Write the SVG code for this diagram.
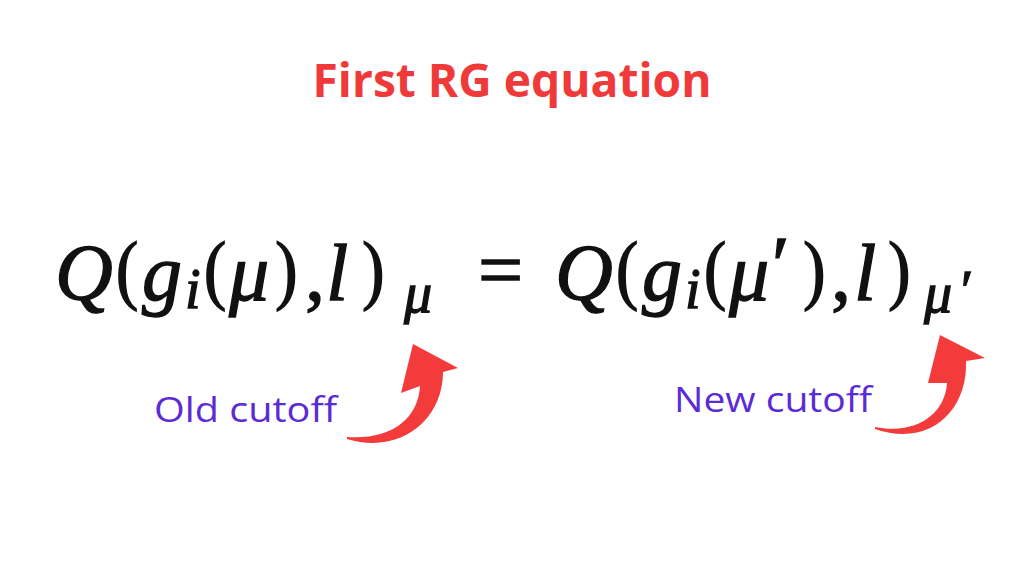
<svg xmlns="http://www.w3.org/2000/svg" width="1024" height="576" viewBox="0 0 1024 576">
<style>
.title{font-family:"Open Sans","Liberation Sans",sans-serif;font-weight:bold;font-size:46px;fill:#f03a3a}
.lbl{font-family:"Open Sans","Liberation Sans",sans-serif;font-size:34px;fill:#5b2bd6}
.m{font-family:"Liberation Serif","DejaVu Serif",serif;font-size:80px;fill:#111;stroke:#111;stroke-width:1.3}
.p{font-family:"DejaVu Serif","Liberation Serif",serif;font-size:78px;fill:#111}
.it{font-style:italic}
.sub{font-size:56px}
.arrow{fill:#f43b3b}
</style>
<rect width="1024" height="576" fill="#ffffff"/>
<g id="title"><text class="title" x="512" y="97" text-anchor="middle" textLength="399" lengthAdjust="spacingAndGlyphs">First RG equation</text></g>
<g id="equation">
<text class="m it" x="55" y="300">Q</text>
<text class="p" x="112" y="300">(</text>
<text class="m it" x="142" y="300">g</text>
<text class="m it sub" x="185" y="308">i</text>
<text class="p" x="200" y="300">(</text>
<text class="m it" x="229" y="300">μ</text>
<text class="p" x="271" y="300">)</text>
<text class="m" x="305" y="300">,</text>
<text class="m it" x="326" y="300">l</text>
<text class="p" x="358" y="300">)</text>
<text class="m it sub" x="404" y="312">μ</text>
<text class="m" x="478" y="297">=</text>
<text class="m it" x="555" y="300">Q</text>
<text class="p" x="612" y="300">(</text>
<text class="m it" x="642" y="300">g</text>
<text class="m it sub" x="685" y="308">i</text>
<text class="p" x="700" y="300">(</text>
<text class="m it" x="729" y="300">μ</text>
<text class="m" x="772" y="292">′</text>
<text class="p" x="799" y="300">)</text>
<text class="m" x="831" y="300">,</text>
<text class="m it" x="854" y="300">l</text>
<text class="p" x="884" y="300">)</text>
<text class="m it sub" x="924" y="312">μ</text>
<text class="m sub" x="961" y="310">′</text>
</g>
<g id="label-old"><text class="lbl" x="154" y="422" textLength="183" lengthAdjust="spacingAndGlyphs">Old cutoff</text></g>
<g id="label-new"><text class="lbl" x="674" y="412" textLength="198" lengthAdjust="spacingAndGlyphs">New cutoff</text></g>
<g id="connectors">
<path class="arrow" d="M347 437 C390 440 418 420 420 386 L401 393 L413 344 L458 368 L443 372 C443 420 400 455 347 439 Z"/>
<path class="arrow" d="M875 427 C915 435 945 415 947 383 L928 383 L940 335 L985 358 L966 361 C968 410 930 448 875 429 Z"/>
</g>
</svg>
